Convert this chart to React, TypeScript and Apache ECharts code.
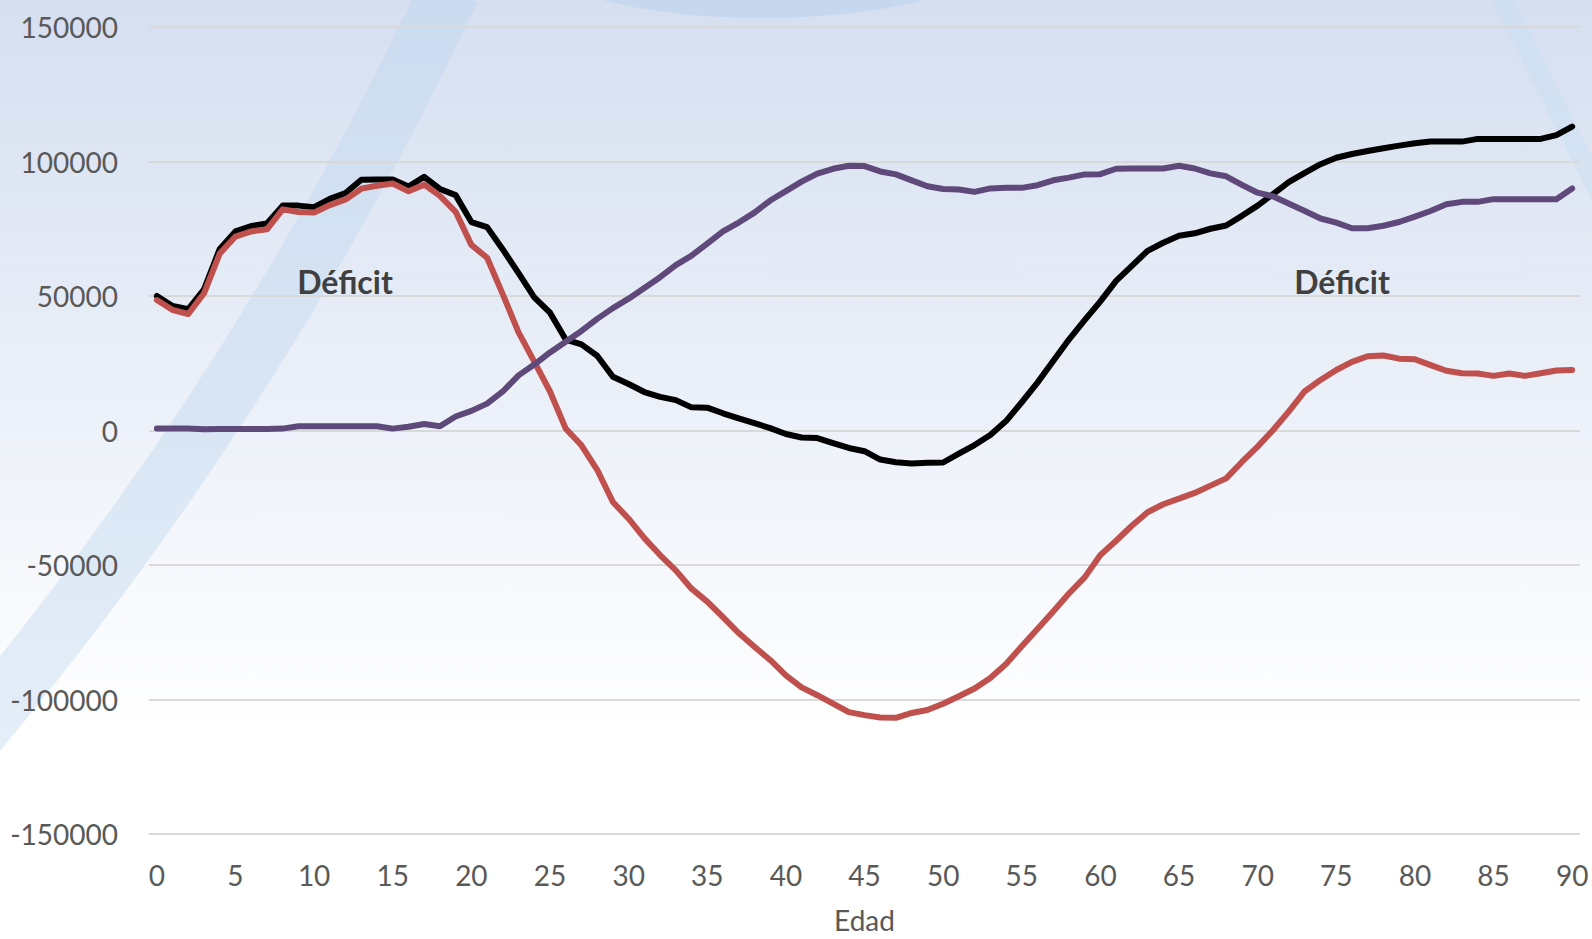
import React, { useEffect, useRef } from "react";
import * as echarts from "echarts";

const ages = [
  "0","1","2","3","4","5","6","7","8","9","10","11","12","13","14","15","16","17","18","19",
  "20","21","22","23","24","25","26","27","28","29","30","31","32","33","34","35","36","37","38","39",
  "40","41","42","43","44","45","46","47","48","49","50","51","52","53","54","55","56","57","58","59",
  "60","61","62","63","64","65","66","67","68","69","70","71","72","73","74","75","76","77","78","79",
  "80","81","82","83","84","85","86","87","88","89","90",
];

const blackSeries = [
  50000, 46300, 45100, 52500, 67500, 74000, 76000, 77000, 83600, 83600,
  83000, 86100, 88300, 93200, 93300, 93300, 90700, 94300, 89800, 87500,
  77500, 75600, 67300, 58500, 49500, 43800, 33800, 32000, 27800, 20000,
  17300, 14300, 12500, 11300, 8600, 8500, 6400, 4500, 2700, 900,
  -1300, -2600, -2800, -4700, -6500, -7700, -10800, -11800, -12300, -12000,
  -11900, -8600, -5400, -1700, 3500, 10500, 17800, 25800, 33800, 41000,
  48000, 55600, 61200, 66800, 69800, 72400, 73300, 75000, 76200, 79800,
  83600, 88000, 92400, 95800, 99000, 101400, 102800, 103900, 104900, 105900,
  106800, 107400, 107400, 107400, 108400, 108400, 108400, 108400, 108400, 109800,
  113000,
];

const redSeries = [
  48500, 44800, 43300, 51000, 65800, 72100, 74000, 74800, 82200, 81200,
  81000, 83800, 85900, 89900, 91000, 91800, 88900, 91400, 87200, 81300,
  69000, 64200, 50600, 36500, 25600, 14500, 700, -5500, -14600, -26600,
  -32800, -40000, -46300, -52000, -58800, -63600, -69400, -75300, -80400, -85300,
  -91000, -95500, -98400, -101500, -104700, -105800, -106700, -106800, -105000, -103900,
  -101600, -98800, -95900, -92000, -86800, -80200, -73800, -67300, -60600, -54600,
  -46300, -41000, -35400, -30400, -27400, -25300, -23200, -20500, -17800, -11700,
  -6000, 300, 7200, 14600, 18800, 22500, 25500, 27600, 27900, 26700,
  26500, 24300, 22200, 21300, 21200, 20300, 21200, 20300, 21300, 22300,
  22500,
];

const purpleSeries = [
  700, 700, 700, 500, 600, 600, 600, 600, 700, 1600,
  1600, 1600, 1600, 1600, 1600, 700, 1400, 2400, 1600, 5200,
  7300, 10000, 14500, 20500, 24500, 29000, 33000, 37000, 41500, 45500,
  49000, 53000, 57000, 61500, 65000, 69500, 74000, 77300, 81000, 85500,
  89000, 92500, 95500, 97300, 98400, 98300, 96300, 95200, 93000, 90800,
  89800, 89600, 88700, 90000, 90200, 90200, 91200, 93000, 94000, 95200,
  95300, 97300, 97400, 97400, 97400, 98400, 97400, 95600, 94500, 91300,
  88400, 87000, 84300, 81600, 78800, 77300, 75200, 75200, 76100, 77500,
  79500, 81600, 84100, 85000, 85000, 86000, 86000, 86000, 86000, 86000,
  90000,
];

const annotationText = "Déficit";
const axisName = "Edad";

export default function App() {
  const ref = useRef<HTMLDivElement>(null);

  useEffect(() => {
    if (!ref.current) return;
    const chart = echarts.init(ref.current, null, { renderer: "svg" });
    const font = "Lato, 'Open Sans', sans-serif";
    const lineStyle = (color: string) => ({
      color,
      width: 6,
      join: "round" as const,
      cap: "round" as const,
    });
    chart.setOption({
      animation: false,
      backgroundColor: {
        type: "linear",
        x: 0,
        y: 0,
        x2: 0,
        y2: 1,
        colorStops: [
          { offset: 0, color: "#d5dff0" },
          { offset: 0.45, color: "#edf1f9" },
          { offset: 0.78, color: "#ffffff" },
          { offset: 1, color: "#ffffff" },
        ],
      },
      graphic: [
        {
          type: "ellipse",
          z: 0,
          silent: true,
          shape: { cx: 763, cy: -42, rx: 225, ry: 60 },
          style: { fill: "#c7d8ee" },
        },
        {
          type: "bezierCurve",
          z: 0,
          silent: true,
          shape: { x1: 450, y1: -10, cpx1: 260, cpy1: 395, x2: -30, y2: 740 },
          style: { stroke: "rgba(190,215,238,0.42)", lineWidth: 60, fill: null },
        },
        {
          type: "line",
          z: 0,
          silent: true,
          shape: { x1: 1500, y1: -5, x2: 1605, y2: 205 },
          style: { stroke: "rgba(200,222,242,0.45)", lineWidth: 20 },
        },
        {
          type: "text",
          z: 10,
          x: 345,
          y: 281,
          style: {
            text: annotationText,
            fill: "#404040",
            font: `bold 32px ${font}`,
            align: "center",
            verticalAlign: "middle",
          },
        },
        {
          type: "text",
          z: 10,
          x: 1342,
          y: 281,
          style: {
            text: annotationText,
            fill: "#404040",
            font: `bold 32px ${font}`,
            align: "center",
            verticalAlign: "middle",
          },
        },
      ],
      grid: { left: 149, right: 12, top: 27, bottom: 104, containLabel: false },
      xAxis: {
        type: "category",
        data: ages,
        boundaryGap: true,
        axisLine: { show: false },
        axisTick: { show: false },
        splitLine: { show: false },
        axisLabel: {
          interval: 4,
          fontSize: 28,
          fontFamily: font,
          color: "#595959",
          margin: 27,
        },
        name: axisName,
        nameLocation: "middle",
        nameGap: 72,
        nameTextStyle: { fontSize: 28, fontFamily: font, color: "#595959" },
      },
      yAxis: {
        type: "value",
        min: -150000,
        max: 150000,
        interval: 50000,
        axisLine: { show: false },
        axisTick: { show: false },
        axisLabel: {
          fontSize: 28,
          fontFamily: font,
          color: "#595959",
          margin: 31,
          formatter: (v: number) => String(v),
        },
        splitLine: { lineStyle: { color: "#d9d9d9", width: 2 } },
      },
      series: [
        {
          type: "line",
          data: blackSeries,
          showSymbol: false,
          z: 3,
          lineStyle: lineStyle("#000000"),
        },
        {
          type: "line",
          data: redSeries,
          showSymbol: false,
          z: 4,
          lineStyle: lineStyle("#c0504d"),
        },
        {
          type: "line",
          data: purpleSeries,
          showSymbol: false,
          z: 5,
          lineStyle: lineStyle("#5f497a"),
        },
      ],
    });
    return () => chart.dispose();
  }, []);

  return (
    <div
      ref={ref}
      style={{ position: "fixed", left: 0, top: 0, width: 1592, height: 939 }}
    />
  );
}
